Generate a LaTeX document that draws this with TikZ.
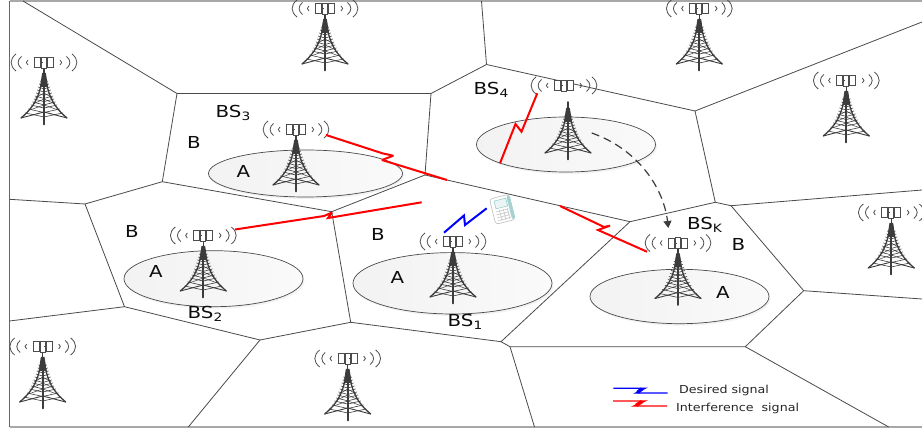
\documentclass[tikz,border=0pt]{standalone}
\usepackage{fontspec}
\setmainfont{DejaVu Sans}
\usetikzlibrary{arrows.meta}
\definecolor{twr}{HTML}{3C3C3C}
\definecolor{cellc}{HTML}{4A4A4A}
\definecolor{frm}{HTML}{A8A8A8}
\tikzset{
  cell/.style={draw=cellc,line width=.8pt},
  framel/.style={draw=frm,line width=1.3pt},
  zone/.style={draw=cellc,line width=.7pt,left color=black!5,right color=black!2},
  zoneshadow/.style={fill=black!5},
  bolt/.style={draw=red,line width=2pt,line join=miter,miter limit=3},
  dbolt/.style={draw=blue,line width=2pt,line join=miter,miter limit=3},
  lbl/.style={inner sep=0pt,font=\fontsize{16.5}{18}\selectfont,text=black!95},
  leg/.style={inner sep=0pt,anchor=west,font=\fontsize{11}{13}\selectfont,text=black!85},
  wave/.style={draw=black!70,line width=.8pt},
}
\newcommand\wide[1]{\scalebox{1.2}[1]{#1}}
\newcommand\legw[1]{\scalebox{1.15}[1]{#1}}
\newcommand\bsname[1]{\wide{BS\raisebox{-3pt}{\fontsize{11.5}{12}\selectfont #1}}}
\newcommand\mastbody[2]{%
\begin{scope}[shift={(#1,#2)},draw=twr,line cap=round]
  \draw[line width=1.5pt] (0,10)--(0,18);
  \fill[twr] (-1.8,16)--(1.8,16)--(4,30)--(-4,30)--cycle;
  \draw[line width=1.3pt] (-1,17) .. controls (-4,40) and (-10,50) .. (-23,61);
  \draw[line width=1.3pt] (1,17) .. controls (4,40) and (10,50) .. (23,61);
  \draw[line width=1.8pt] (0,18)--(0,67.5);
  \foreach \yy/\xx in {24/4,27/4.8,30/5.8,33/6.7,36/7.8,39/9,42/10,45/11.4,48/13,52/15.6,56/18.5}{
    \draw[line width=.6pt] (-\xx,\yy)--(0,\yy+.16*\xx+1)--(\xx,\yy);
  }
  \draw[line width=.9pt] (-23,61)--(0,55)--(23,61);
  \foreach \yy/\xx in {38/8.5,44/10.8,50/14.2}{
    \draw[line width=.5pt] (-\xx,\yy+3)--(0,\yy-2)--(\xx,\yy+3);
  }
\end{scope}}
\newcommand\antennas[2]{%
\begin{scope}[shift={(#1,#2)}]
  \draw[draw=black!70,line width=.7pt,fill=white] (-9.5,.5) rectangle (-3.5,10.5) (3.5,.5) rectangle (9.5,10.5);
  \draw[draw=black!70,line width=.7pt,fill=white] (-2.5,0) rectangle (2.5,11);
  \draw[black!70,line width=.6pt] (-3.5,5.5)--(-1.5,5.5) (1.5,5.5)--(3.5,5.5);
  \foreach \s in {-1,1}{
    \draw[wave] (\s*16,3) .. controls (\s*18.2,4.5) and (\s*18.2,6.5) .. (\s*16,8);
    \draw[wave] (\s*22.5,-.5) .. controls (\s*27,3) and (\s*27,8) .. (\s*22.5,11.5);
    \draw[wave] (\s*28,-3) .. controls (\s*34.5,2) and (\s*34.5,9) .. (\s*28,14);
  }
\end{scope}}
\newcommand\tower[2]{\mastbody{#1}{#2}\antennas{#1}{#2}}
\newcommand\zoneat[4]{%
  \fill[zoneshadow] (#1+1.5,#2+2) ellipse [x radius=#3,y radius=#4];
  \draw[zone] (#1,#2) ellipse [x radius=#3,y radius=#4];}
\begin{document}
\begin{tikzpicture}[x=1pt,y=-1pt]
\useasboundingbox (0,0) rectangle (922,430);
% frame
\coordinate (TL) at (9.5,1); \coordinate (TR) at (922,1);
\coordinate (BL) at (9.5,427); \coordinate (BR) at (922,427);
\draw[framel] (TR)--(TL);
\draw[framel] (BL)--(BR);
\draw[draw=black!60,line width=.9pt] (TL)--(BL);
% cell vertices
\coordinate (v1) at (177,93.5);
\coordinate (v2) at (431,93.5);
\coordinate (v3) at (486.5,64.5);
\coordinate (v4) at (695,111);
\coordinate (v5) at (715.3,202.3);
\coordinate (v6) at (731,205.7);
\coordinate (v7) at (803.7,290.7);
\coordinate (v8) at (745.3,346.7);
\coordinate (v9) at (510,346.7);
\coordinate (v10) at (501,341.7);
\coordinate (v11) at (630,221.7);
\coordinate (v12) at (425,175);
\coordinate (v13) at (331.7,211.7);
\coordinate (v14) at (162.3,181.7);
\coordinate (v15) at (85,204);
\coordinate (v16) at (124.5,306.7);
\coordinate (v17) at (260,340);
\coordinate (v18) at (350.7,322.3);
\coordinate (e1) at (23,1);
\coordinate (e2) at (481.5,1);
\coordinate (e3) at (922,22);
\coordinate (e4) at (922,190);
\coordinate (e5) at (922,299);
\coordinate (e6) at (888.7,427);
\coordinate (e7) at (534.5,427);
\coordinate (e8) at (188.3,427);
\coordinate (e9) at (9.5,321);
\coordinate (e10) at (9.5,199.3);
\draw[cell] (e1)--(v1)--(v2)--(v3)--(v4)--(v5)--(v6)--(v7)--(v8)--(v9)--(v10)--(v18)--(v17)--(v16)--(v15)--(v14)--(v1);
\draw[cell] (e2)--(v3) (v4)--(e3) (v6)--(e4) (v7)--(e5) (v8)--(e6) (v9)--(e7) (v17)--(e8) (v16)--(e9) (v15)--(e10);
\draw[cell] (v2)--(v12)--(v11)--(v5) (v12)--(v13)--(v14) (v13)--(v18) (v10)--(v11);
% zones
\zoneat{305.5}{173.5}{97}{23.5}
\zoneat{566}{144.5}{89.5}{27.5}
\zoneat{213.5}{278.7}{89.5}{28}
\zoneat{452.5}{283.3}{99.5}{30.7}
\zoneat{679.5}{296.5}{89.5}{27.2}
% towers
\tower{44}{57}
\tower{325}{3}
\tower{699.3}{3}
\tower{296}{124}
\mastbody{568}{92}\antennas{564}{80}
\tower{846.3}{75}
\tower{891.3}{207}
\tower{203.3}{230}
\tower{453}{236}
\tower{678}{237.5}
\tower{42.7}{341}
\tower{347.7}{353}
% interference
\coordinate (r1a) at (326,135); \coordinate (r1b) at (447,180);
\draw[bolt] (r1a)--(383,153.5)--(393.3,155.7)--(382,160)--(r1b);
\coordinate (r2a) at (235,229.5); \coordinate (r2b) at (421.7,202.3);
\draw[bolt] (r2a)--(324,216)--(332,212.5)--(328,218)--(r2b);
\coordinate (r3a) at (537.3,93.3); \coordinate (r3b) at (500,163.3);
\draw[bolt] (r3a)--(521.5,131.7)--(515.5,124)--(r3b);
\coordinate (r4a) at (560,206); \coordinate (r4b) at (647,251.7);
\draw[bolt] (r4a)--(604,227)--(610,225.7)--(598,230)--(r4b);
\coordinate (d1a) at (444,232.7); \coordinate (d1b) at (486.7,208.3);
\draw[dbolt] (d1a)--(464,215.5)--(465,225)--(d1b);
% handset
\begin{scope}[shift={(502.3,209.3)},rotate=14]
  \draw[draw=black!25,line width=.6pt,fill=white,rounded corners=3pt] (-10,-13) rectangle (10,13);
  \draw[draw=none,fill=teal!35,rounded corners=2pt] (7,-12) rectangle (10.5,12);
  \draw[draw=teal!40,line width=.6pt,fill=teal!8] (-6,-10) rectangle (6,-2);
  \foreach \ky in {1,4,7,10}{\draw[black!25,line width=.5pt] (-7,\ky)--(6,\ky);}
  \foreach \kx in {-3,1,5}{\draw[black!25,line width=.5pt] (\kx,0)--(\kx,11);}
\end{scope}
% handover
\coordinate (h1) at (591.7,133); \coordinate (h2) at (668.3,228);
\draw[draw=twr,line width=1.2pt,dash pattern=on 8pt off 5pt,-{Triangle[length=7pt,width=8pt]}] (h1) .. controls (640,150) and (664,190) .. (h2);
% labels
\node[lbl] (bs1) at (465,322) {\bsname{1}};
\node[lbl] (bs2) at (205,313.5) {\bsname{2}};
\node[lbl] (bs3) at (233,113) {\bsname{3}};
\node[lbl] (bs4) at (491,90) {\bsname{4}};
\node[lbl] (bsk) at (704.5,225) {\bsname{K}};
\node[lbl] (a1) at (397.5,277) {\wide{A}};
\node[lbl] (a2) at (156,271) {\wide{A}};
\node[lbl] (a3) at (243.5,171) {\wide{A}};
\node[lbl] (a4) at (723,292.5) {\wide{A}};
\node[lbl] (b1) at (378,234.5) {\wide{B}};
\node[lbl] (b2) at (132,231.5) {\wide{B}};
\node[lbl] (b3) at (194,142) {\wide{B}};
\node[lbl] (b4) at (738.5,244) {\wide{B}};
% legend
\coordinate (l1a) at (613.3,388.3); \coordinate (l1b) at (667.7,393);
\draw[draw=blue,line width=1.4pt] (l1a)--(645,388.3)--(636,393)--(l1b);
\draw[draw=blue,line width=3.5pt] (642,388.8)--(637.5,392.5);
\coordinate (l2a) at (613,401); \coordinate (l2b) at (667,406);
\draw[draw=red,line width=1.4pt] (l2a)--(645,401)--(634,406)--(l2b);
\draw[draw=red,line width=3.5pt] (642,401.5)--(636,405.5);
\node[leg] (t1) at (679,390.5) {\legw{Desired signal}};
\node[leg] (t2) at (676,408) {\legw{Interference\ \ signal}};
\end{tikzpicture}
\end{document}
